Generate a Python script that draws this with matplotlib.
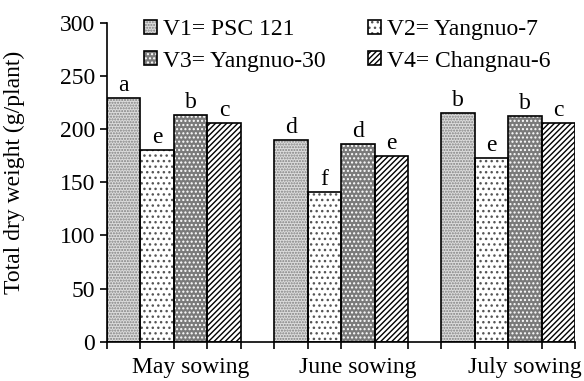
import matplotlib
matplotlib.use("Agg")
import numpy as np
import matplotlib.pyplot as plt
from matplotlib.patches import Patch

plt.rcParams['font.family'] = ['Liberation Serif', 'DejaVu Serif']
plt.rcParams['hatch.linewidth'] = 1.0

# data
groups = ["May sowing", "June sowing", "July sowing"]
varieties = ["V1= PSC 121", "V2= Yangnuo-7", "V3= Yangnuo-30", "V4= Changnau-6"]
may = [229, 180, 213, 206]
june = [190, 141, 186, 175]
july = [215, 173, 212, 206]
letters_may = ["a", "e", "b", "c"]
letters_june = ["d", "f", "d", "e"]
letters_july = ["b", "e", "b", "c"]

values = np.array([may, june, july])
letters = [letters_may, letters_june, letters_july]

# style per variety: face, hatch, hatch colour
styles = [
    ("#dcdcdc", "......", "#808080"),
    ("white", "...", "#555555"),
    ("#7a7a7a", "....", "white"),
    ("white", "//////", "black"),
]

FS = 17

fig = plt.figure(figsize=(5.84, 3.81), dpi=100)
ax = fig.add_axes([0.183, 0.103, 0.802, 0.837])

handles = []
for j in range(4):
    face, hatch, hcol = styles[j]
    x = np.arange(3) * 5 + j
    ax.bar(x, values[:, j], width=1.0, align='edge', color=face,
           edgecolor=hcol, hatch=hatch, linewidth=0, zorder=2)
    ax.bar(x, values[:, j], width=1.0, align='edge', fill=False,
           edgecolor='black', linewidth=1.2, zorder=3)
    for g in range(3):
        ax.text(x[g] + 0.5, values[g, j] + 2, letters[g][j],
                ha='center', va='bottom', fontsize=FS)
    p1 = Patch(facecolor=face, edgecolor=hcol, hatch=hatch, linewidth=0)
    p2 = Patch(fill=False, edgecolor='black', linewidth=1.2)
    handles.append((p1, p2))

ax.set_xlim(0, 14)
ax.set_ylim(0, 300)
ax.set_yticks(np.arange(0, 301, 50))
ax.tick_params(axis='y', labelsize=FS, direction='out', length=5, width=1.2)

# bar edges get the small ticks, group labels sit a bit right of centre
edges = [g * 5 + k for g in range(3) for k in range(5)]
ax.set_xticks(edges, minor=True)
ax.set_xticks([g * 5 + 2.5 for g in range(3)])
ax.set_xticklabels(groups, fontsize=FS)
ax.tick_params(axis='x', which='major', length=0, pad=11)
ax.tick_params(axis='x', which='minor', length=5, width=1.2, direction='out')

ax.spines['top'].set_visible(False)
ax.spines['right'].set_visible(False)
ax.spines['left'].set_linewidth(1.2)
ax.spines['bottom'].set_linewidth(1.2)

ax.set_ylabel("Total dry weight (g/plant)", fontsize=FS)
ax.yaxis.set_label_coords(-0.175, 0.53)

# row-wise order: V1 V2 / V3 V4 (legend fills column-wise)
order = [0, 2, 1, 3]
ax.legend([handles[i] for i in order], [varieties[i] for i in order],
          ncol=2, loc='upper left',
          bbox_to_anchor=(0.08, 1.012), frameon=False, fontsize=FS,
          handlelength=0.55, handleheight=0.55, handletextpad=0.25,
          columnspacing=1.8, labelspacing=0.45, borderaxespad=0,
          borderpad=0)

fig.savefig("out.png", dpi=100)
